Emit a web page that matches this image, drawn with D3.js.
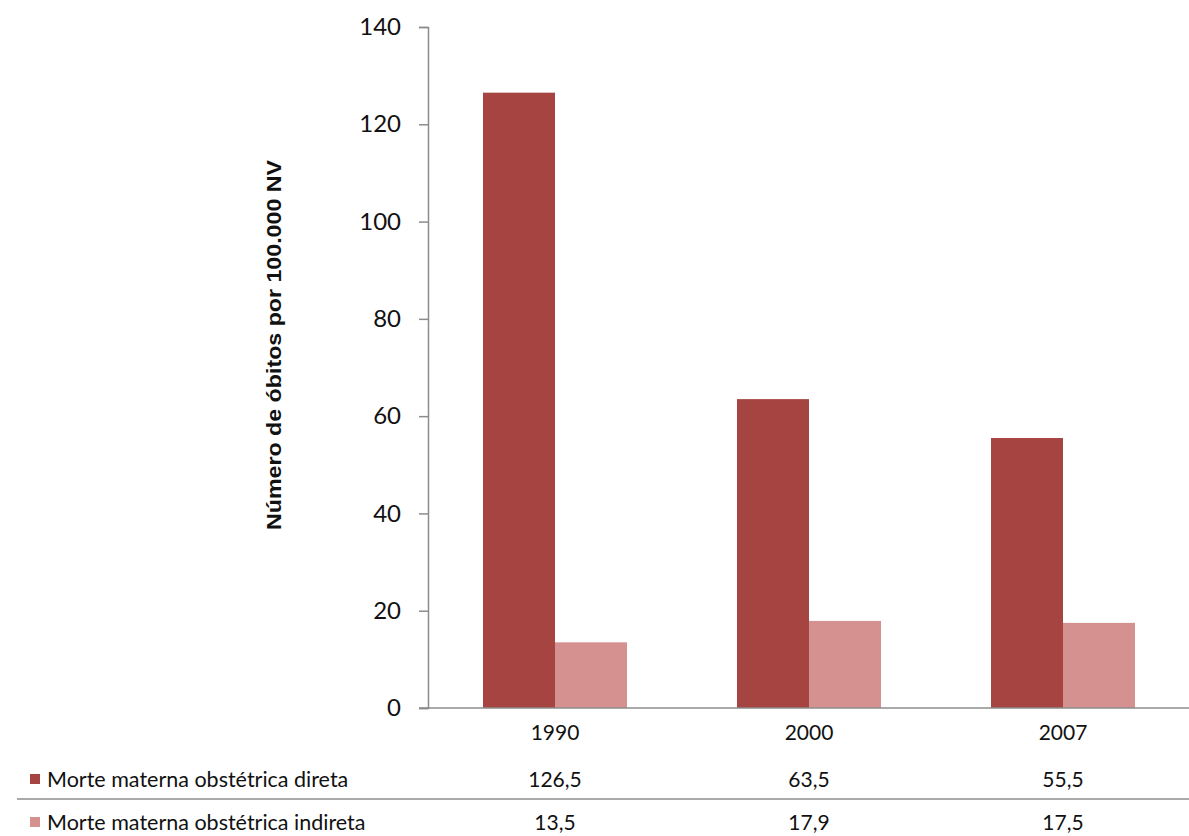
<!DOCTYPE html>
<html><head><meta charset="utf-8">
<script src="https://cdn.jsdelivr.net/npm/d3@7"></script>
<style>body{margin:0;background:#fff}</style>
</head><body>
<svg id="c" width="1189" height="836"></svg>
<script>
const categories = ["1990", "2000", "2007"];
const seriesNames = ["Morte materna obstétrica direta", "Morte materna obstétrica indireta"];
const direta = [126.5, 63.5, 55.5];
const indireta = [13.5, 17.9, 17.5];
const valueLabels = [["126,5", "63,5", "55,5"], ["13,5", "17,9", "17,5"]];
const yTicks = [0, 20, 40, 60, 80, 100, 120, 140];
const colors = ["#a64442", "#d49190"];
const series = [direta, indireta];

const svg = d3.select("#c");
const font = "Lato, 'Open Sans', sans-serif";
const x0 = 428, x1 = 1190, yTop = 27, yBot = 708;

const x = d3.scaleBand().domain(categories).range([x0, x1]).paddingInner(0.433).paddingOuter(0.2165);
const xs = d3.scaleBand().domain([0, 1]).range([0, x.bandwidth()]);
const y = d3.scaleLinear().domain([0, 140]).range([yBot, yTop]);

// bars
categories.forEach((c, i) => {
  series.forEach((s, k) => {
    svg.append("rect")
      .attr("x", x(c) + xs(k)).attr("y", y(s[i]))
      .attr("width", xs.bandwidth()).attr("height", y(0) - y(s[i]))
      .attr("fill", colors[k]);
  });
});

// y axis
const yAxis = svg.append("g").attr("transform", `translate(${x0},0)`)
  .call(d3.axisLeft(y).tickValues(yTicks).tickSize(9).tickPadding(18).tickFormat(d3.format("d")));
yAxis.select(".domain").attr("stroke", "#8c8c8c").attr("stroke-width", 1.5);
yAxis.selectAll(".tick line").attr("stroke", "#8c8c8c").attr("stroke-width", 1.5);
yAxis.selectAll(".tick text").attr("font-family", font).attr("font-size", 24).attr("fill", "#111");

// x axis line
svg.append("line").attr("x1", x0 - 9).attr("x2", x1).attr("y1", yBot).attr("y2", yBot)
  .attr("stroke", "#8c8c8c").attr("stroke-width", 1.5);

// axis title
svg.append("text")
  .attr("transform", `translate(281,${(160 + 530) / 2}) rotate(-90)`)
  .attr("text-anchor", "middle")
  .attr("font-family", "'Liberation Sans Narrow', 'Arial Narrow', 'Liberation Sans', sans-serif")
  .attr("font-weight", "bold").attr("font-size", 21).attr("fill", "#111")
  .attr("textLength", 370).attr("lengthAdjust", "spacingAndGlyphs")
  .text("Número de óbitos por 100.000 NV");

// category labels
svg.selectAll(".cat").data(categories).enter().append("text")
  .attr("x", d => x(d) + x.bandwidth() / 2).attr("y", 740)
  .attr("text-anchor", "middle").attr("font-family", font).attr("font-size", 21).attr("fill", "#111")
  .text(d => d);

// table rows
const rowY = [787, 830];
seriesNames.forEach((n, k) => {
  svg.append("rect").attr("x", 30).attr("y", rowY[k] - 13).attr("width", 10).attr("height", 10).attr("fill", colors[k]);
  svg.append("text").attr("x", 47).attr("y", rowY[k]).attr("font-family", font).attr("font-size", 21.5).attr("fill", "#111").text(n);
  categories.forEach((c, i) => {
    svg.append("text").attr("x", x(c) + x.bandwidth() / 2).attr("y", rowY[k])
      .attr("text-anchor", "middle").attr("font-family", font).attr("font-size", 21).attr("fill", "#111")
      .text(valueLabels[k][i]);
  });
});
svg.append("line").attr("x1", 17).attr("x2", 1189).attr("y1", 799).attr("y2", 799)
  .attr("stroke", "#8c8c8c").attr("stroke-width", 1.5);
</script>
</body></html>
